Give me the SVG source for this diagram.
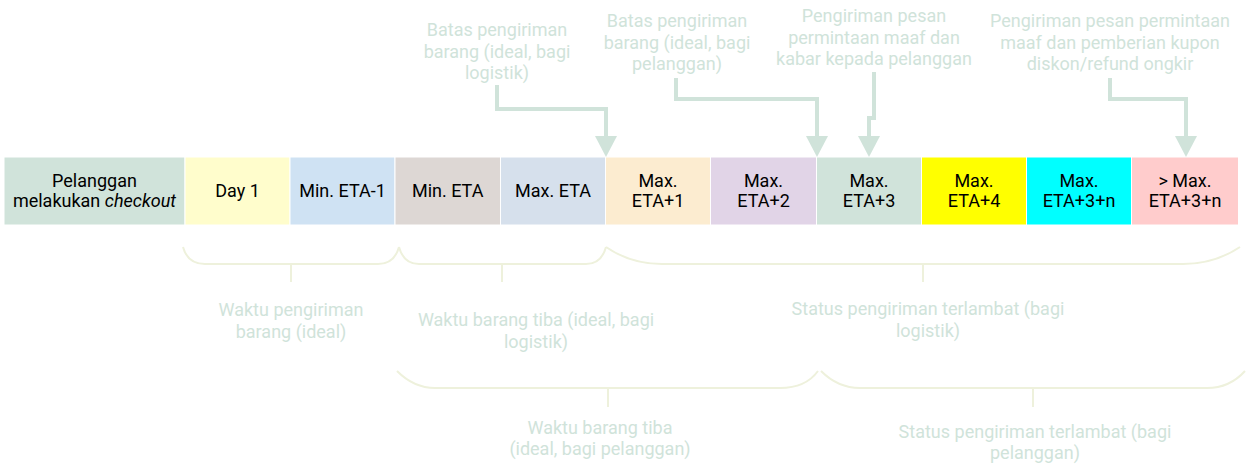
<svg xmlns="http://www.w3.org/2000/svg" width="1250" height="475" viewBox="0 0 1250 475">
<style>
.box{stroke:#ffffff;stroke-width:1}
.bt{font-family:Roboto,"Liberation Sans",sans-serif;font-size:18px;fill:#000000;text-anchor:middle}
.lt{font-family:Roboto,"Liberation Sans",sans-serif;font-size:18px;fill:#d0e3da;text-anchor:middle}
.arr{fill:none;stroke:#d0e3da;stroke-width:4}
.br{fill:none;stroke:#eef1dc;stroke-width:2}
</style>
<defs>
<marker id="ah" markerUnits="userSpaceOnUse" markerWidth="22" markerHeight="22" viewBox="0 0 21 22" refX="0" refY="11" orient="auto">
<path d="M0,0 L21,11 L0,22 z" fill="#d0e3da"/>
</marker>
</defs>
<rect width="1250" height="475" fill="#ffffff"/>
<g id="n0"><rect class="box" x="4" y="157" width="181" height="68" fill="#d0e3da"/><text class="bt" x="94.5" y="187">Pelanggan</text><text class="bt" x="94.5" y="207">melakukan <tspan font-style="italic">checkout</tspan></text></g>
<g id="n1"><rect class="box" x="185" y="157" width="105" height="68" fill="#fffdcc"/><text class="bt" x="237.5" y="197">Day 1</text></g>
<g id="n2"><rect class="box" x="290" y="157" width="105" height="68" fill="#cfe2f3"/><text class="bt" x="342.5" y="197">Min. ETA-1</text></g>
<g id="n3"><rect class="box" x="395" y="157" width="105.5" height="68" fill="#ddd7d4"/><text class="bt" x="447.7" y="197">Min. ETA</text></g>
<g id="n4"><rect class="box" x="500.5" y="157" width="105" height="68" fill="#d6e0ec"/><text class="bt" x="553" y="197">Max. ETA</text></g>
<g id="n5"><rect class="box" x="605.5" y="157" width="105" height="68" fill="#fcecd0"/><text class="bt" x="658" y="187">Max.</text><text class="bt" x="658" y="207">ETA+1</text></g>
<g id="n6"><rect class="box" x="710.5" y="157" width="106" height="68" fill="#e1d4e7"/><text class="bt" x="763.5" y="187">Max.</text><text class="bt" x="763.5" y="207">ETA+2</text></g>
<g id="n7"><rect class="box" x="816.5" y="157" width="105" height="68" fill="#d0e3da"/><text class="bt" x="869" y="187">Max.</text><text class="bt" x="869" y="207">ETA+3</text></g>
<g id="n8"><rect class="box" x="921.5" y="157" width="105" height="68" fill="#ffff00"/><text class="bt" x="974" y="187">Max.</text><text class="bt" x="974" y="207">ETA+4</text></g>
<g id="n9"><rect class="box" x="1026.5" y="157" width="105" height="68" fill="#00ffff"/><text class="bt" x="1079" y="187">Max.</text><text class="bt" x="1079" y="207">ETA+3+n</text></g>
<g id="n10"><rect class="box" x="1131.5" y="157" width="107" height="68" fill="#ffcccc"/><text class="bt" x="1185" y="187">&gt; Max.</text><text class="bt" x="1185" y="207">ETA+3+n</text></g>
<g id="connectors">
<path class="arr" d="M497,85 V109 H606 V136" marker-end="url(#ah)"/>
<path class="arr" d="M676,78 V99 H817 V136" marker-end="url(#ah)"/>
<path class="arr" d="M874,72 V118 H869 V136" marker-end="url(#ah)"/>
<path class="arr" d="M1110,78 V99 H1186 V136" marker-end="url(#ah)"/>
</g>
<g id="callouts">
<text class="lt" x="497" y="36">Batas pengiriman</text><text class="lt" x="497" y="57.5">barang (ideal, bagi</text><text class="lt" x="497" y="79">logistik)</text>
<text class="lt" x="677" y="27">Batas pengiriman</text><text class="lt" x="677" y="48.5">barang (ideal, bagi</text><text class="lt" x="677" y="70">pelanggan)</text>
<text class="lt" x="874" y="22">Pengiriman pesan</text><text class="lt" x="874" y="43.5">permintaan maaf dan</text><text class="lt" x="874" y="65">kabar kepada pelanggan</text>
<text class="lt" x="1110" y="27">Pengiriman pesan permintaan</text><text class="lt" x="1110" y="48.5">maaf dan pemberian kupon</text><text class="lt" x="1110" y="70">diskon/refund ongkir</text>
</g>
<g id="braces">
<path class="br" d="M183,247 C186,258 194,264 205,264 H378 C389,264 396,258 399,247 M291,264 V282"/>
<path class="br" d="M399,247 C402,258 409,264 419,264 H586 C597,264 603,258 606,247 M502,264 V282"/>
<path class="br" d="M606,247 C622,258 642,264 662,264 H1183 C1205,264 1225,257 1240,247 M923,264 V282"/>
<path class="br" d="M397,371 C408,382 420,388 435,388 H780 C797,388 810,382 818,371 M608,388 V407"/>
<path class="br" d="M821,371 C832,382 845,388 860,388 H1207 C1223,388 1236,381 1245,371 M1033,388 V407"/>
</g>
<g id="brace-labels">
<text class="lt" x="291" y="316">Waktu pengiriman</text><text class="lt" x="291" y="337.5">barang (ideal)</text>
<text class="lt" x="536" y="326">Waktu barang tiba (ideal, bagi</text><text class="lt" x="536" y="347.5">logistik)</text>
<text class="lt" x="928" y="315">Status pengiriman terlambat (bagi</text><text class="lt" x="928" y="336.5">logistik)</text>
<text class="lt" x="600" y="433.5">Waktu barang tiba</text><text class="lt" x="600" y="455">(ideal, bagi pelanggan)</text>
<text class="lt" x="1035" y="437.5">Status pengiriman terlambat (bagi</text><text class="lt" x="1035" y="459">pelanggan)</text>
</g>
</svg>
